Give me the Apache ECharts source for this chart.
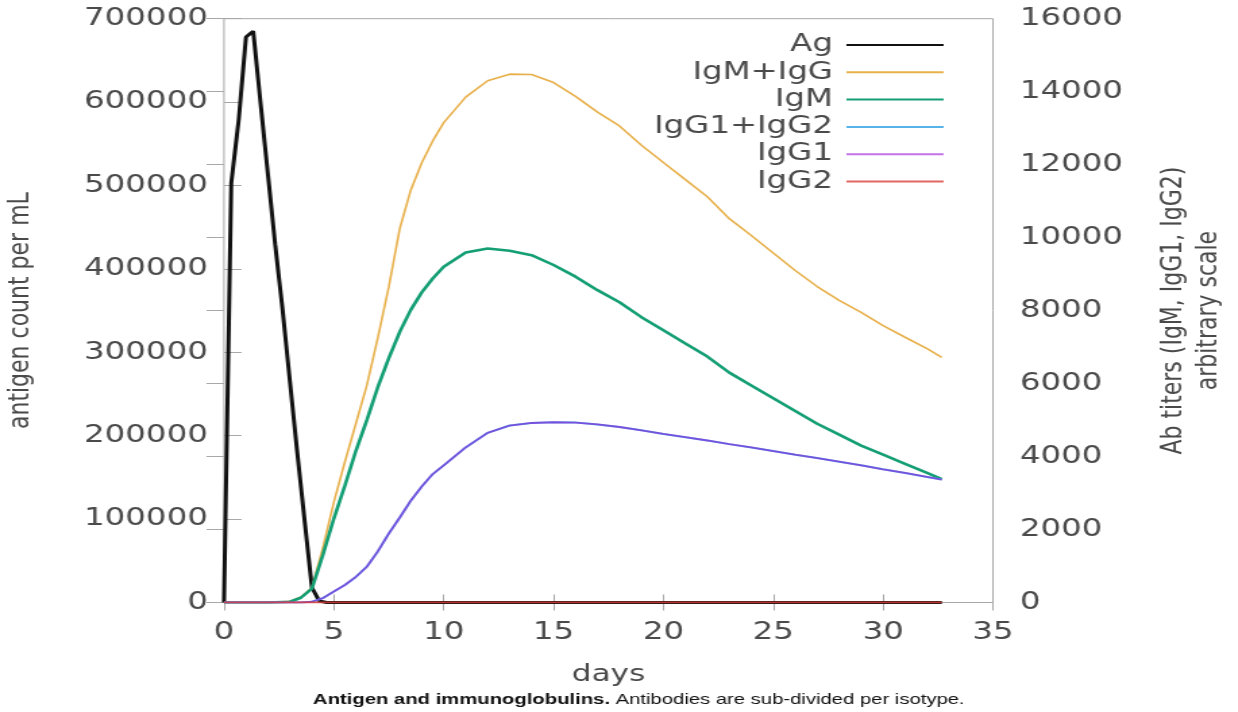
<!DOCTYPE html>
<html>
<head>
<meta charset="utf-8">
<script src="https://cdn.jsdelivr.net/npm/echarts@6/dist/echarts.min.js"></script>
<style>
  html, body { margin: 0; padding: 0; background: #fff; overflow: hidden; }
  #wrap { width: 1238px; height: 712px; overflow: hidden; position: relative; }
  #chart { height: 712px; transform-origin: 0 0; }
</style>
</head>
<body>
<div id="wrap"><div id="chart"></div></div>
<script>
// Horizontal stretch applied to the whole drawing (wide glyphs, condensed rotated titles)
const STRETCH = 1.35;
const PAGE_W = 1238;

// Antigen (left axis), sampled every 8 h (1/3 day)
const agDays = [0, 0.33, 0.67, 1, 1.33, 1.67, 2, 2.33, 2.67, 3, 3.33, 3.67, 4, 4.33, 4.67, 10, 20, 32.67];
const agValues = [0, 503000, 579000, 678000, 685000, 597000, 513000, 429000, 350000, 265000, 181000, 98000, 18000, 2000, 0, 0, 0, 0];

// Antibody titers (right axis)
const abDays = [0, 1, 2, 3, 3.5, 4, 4.5, 5, 5.5, 6, 6.5, 7, 7.5, 8, 8.5, 9, 9.5, 10, 11, 12, 13, 14, 15, 16, 17, 18, 19, 20, 21, 22, 23, 24, 25, 26, 27, 28, 29, 30, 31, 32, 32.67];
const igmIggValues = [0, 0, 0, 30, 150, 400, 1500, 2750, 3850, 4900, 5950, 7250, 8650, 10250, 11300, 12050, 12650, 13150, 13850, 14300, 14480, 14470, 14250, 13870, 13440, 13060, 12530, 12060, 11590, 11120, 10520, 10060, 9580, 9100, 8660, 8280, 7950, 7590, 7270, 6960, 6715];
const igmValues = [0, 0, 0, 20, 130, 380, 1300, 2300, 3200, 4150, 5000, 5900, 6700, 7420, 8020, 8500, 8880, 9200, 9590, 9700, 9640, 9520, 9250, 8930, 8560, 8230, 7820, 7460, 7100, 6740, 6300, 5950, 5600, 5250, 4900, 4600, 4300, 4050, 3800, 3550, 3380];
const igg1Values = [0, 0, 0, 0, 0, 20, 120, 300, 480, 700, 980, 1400, 1890, 2330, 2790, 3180, 3520, 3760, 4250, 4650, 4850, 4920, 4940, 4930, 4880, 4810, 4720, 4620, 4530, 4440, 4340, 4250, 4150, 4050, 3960, 3860, 3760, 3650, 3550, 3440, 3370];
const igg2Values = abDays.map(() => 0);
const igg12Values = igg1Values.map((v, i) => v + igg2Values[i]);

// Axis ticks
const dayTicks = { min: 0, max: 35, interval: 5 };
const agTicks = { min: 0, max: 700000, interval: 100000 };
const abTicks = { min: 0, max: 16000, interval: 2000 };

const seriesNames = ['Ag', 'IgM+IgG', 'IgM', 'IgG1+IgG2', 'IgG1', 'IgG2'];

const W = PAGE_W / STRETCH;
const el = document.getElementById('chart');
el.style.width = W + 'px';
el.style.transform = 'scaleX(' + STRETCH + ')';

// plot frame in page pixels -> unstretched units
const plotLeft = 224 / STRETCH;
const plotRight = 993 / STRETCH;
const plotTop = 18.7;
const plotBottom = 602.5;

const FONT = 'DejaVu Sans';
const frameColor = '#a8a8a8';
const textColor = '#4a4a4a';

function pairs(xs, ys) { return xs.map((x, i) => [x, ys[i]]); }

function line(name, xs, ys, color, width, yAxisIndex, opacity) {
  return {
    type: 'line',
    name: name,
    xAxisIndex: 0,
    yAxisIndex: yAxisIndex,
    data: pairs(xs, ys),
    symbol: 'none',
    showSymbol: false,
    smooth: false,
    animation: false,
    itemStyle: { color: color },
    lineStyle: { color: color, width: width, opacity: opacity == null ? 1 : opacity },
    emphasis: { disabled: true }
  };
}

const chart = echarts.init(el, null, { renderer: 'canvas' });
chart.setOption({
  backgroundColor: '#fff',
  animation: false,
  grid: {
    left: plotLeft,
    right: W - plotRight,
    top: plotTop,
    bottom: 712 - plotBottom,
    containLabel: false,
    outerBoundsMode: 'none',
    show: true,
    borderColor: frameColor,
    borderWidth: 1,
    backgroundColor: 'transparent'
  },
  legend: {
    data: seriesNames,
    orient: 'vertical',
    align: 'right',
    right: W - 700,
    top: 33,
    padding: 0,
    itemWidth: 72,
    itemHeight: 14,
    itemGap: 3.3,
    selectedMode: false,
    itemStyle: { opacity: 0 },
    textStyle: { fontFamily: FONT, fontSize: 24, color: textColor, lineHeight: 24, padding: [0, 5, 0, 0] }
  },
  xAxis: [{
    type: 'value',
    position: 'bottom',
    min: dayTicks.min, max: dayTicks.max, interval: dayTicks.interval,
    name: 'days',
    nameLocation: 'middle',
    nameGap: 61,
    nameTextStyle: { fontFamily: FONT, fontSize: 23, color: textColor },
    axisLine: { show: false },
    axisTick: { inside: true, length: 8, lineStyle: { color: frameColor } },
    axisLabel: { fontFamily: FONT, fontSize: 24, color: textColor, margin: 18, formatter: v => String(v) },
    splitLine: { show: false }
  }, {
    type: 'value',
    position: 'top',
    min: dayTicks.min, max: dayTicks.max, interval: dayTicks.interval,
    axisLine: { show: false },
    axisTick: { inside: true, length: 8, lineStyle: { color: frameColor } },
    axisLabel: { show: false },
    splitLine: { show: false }
  }],
  yAxis: [{
    type: 'value',
    position: 'left',
    min: agTicks.min, max: agTicks.max, interval: agTicks.interval,
    name: 'antigen count per mL',
    nameLocation: 'middle',
    nameRotate: 90,
    nameGap: 140,
    nameTextStyle: { fontFamily: FONT, fontSize: 22, color: textColor },
    axisLine: { show: false },
    axisTick: { inside: true, length: 13, lineStyle: { color: frameColor } },
    axisLabel: { fontFamily: FONT, fontSize: 24, color: textColor, margin: 12, formatter: v => String(v) },
    splitLine: { show: false }
  }, {
    type: 'value',
    position: 'right',
    min: abTicks.min, max: abTicks.max, interval: abTicks.interval,
    name: 'Ab titers (IgM, IgG1, IgG2)\narbitrary scale',
    nameLocation: 'middle',
    nameRotate: 90,
    nameGap: 121,
    nameTextStyle: { fontFamily: FONT, fontSize: 22, color: textColor, lineHeight: 26, align: 'center' },
    axisLine: { show: false },
    axisTick: { inside: true, length: 13, lineStyle: { color: frameColor } },
    axisLabel: { fontFamily: FONT, fontSize: 24, color: textColor, margin: 20, formatter: v => String(v) },
    splitLine: { show: false }
  }],
  series: [
    line('Ag', agDays, agValues, '#111111', 3, 0),
    line('IgM+IgG', abDays, igmIggValues, '#e8b04a', 1.6, 1),
    line('IgM', abDays, igmValues, '#139e74', 2.6, 1),
    line('IgG1+IgG2', abDays, igg12Values, '#56b4e9', 2, 1),
    line('IgG1', abDays, igg1Values, '#9400d3', 1.8, 1, 0.55),
    line('IgG2', abDays, igg2Values, '#d8403a', 2, 1, 0.8)
  ],
  graphic: [{
    type: 'text',
    left: 313 / STRETCH,
    top: 692,
    style: {
      text: '{b|Antigen and immunoglobulins.} Antibodies are sub-divided per isotype.',
      fontFamily: 'Liberation Sans',
      fontSize: 15,
      fill: '#111',
      rich: { b: { fontFamily: 'Liberation Sans', fontSize: 15, fontWeight: 'bold', fill: '#111' } }
    }
  }]
});
</script>
</body>
</html>
